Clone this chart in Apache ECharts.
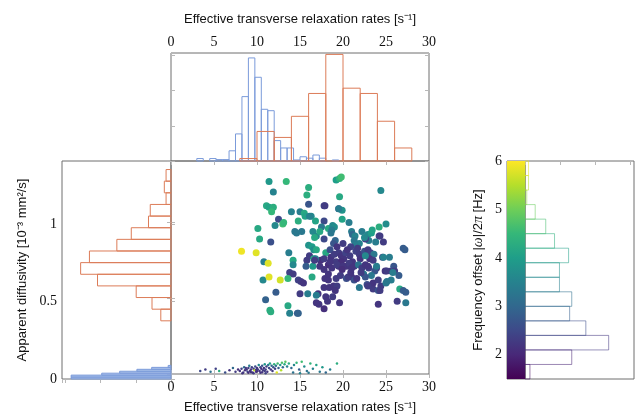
<!DOCTYPE html>
<html><head><meta charset="utf-8">
<script src="https://cdn.jsdelivr.net/npm/echarts/dist/echarts.min.js"></script>
<style>html,body{margin:0;padding:0;background:#fff}#c{width:638px;height:419px}</style>
</head><body><div id="c"></div>
<script>
// ---------- data ----------
var rateTicks = [0, 5, 10, 15, 20, 25, 30];
var diffTicks = [0, 0.5, 1];
var freqTicks = [2, 3, 4, 5, 6];
var freqRange = [1.5, 6];

var blueRateLo = [3.0,3.75,4.5,5.25,6.0,6.75,7.5,8.25,9.0,9.75,10.5,11.25,12.0,12.75,13.5,14.25,15.0,15.75,16.5,17.25,18.0,18.75];
var blueRateCount = [0.7,0,0.7,0.4,0.4,2.9,7.7,18.3,29.3,23.8,14.7,14.3,5.8,3.7,3.7,0.3,1.2,0.8,1.7,0.8,0,0.3];
var blueRateWidth = 0.75;

var orangeRateLo = [8,10,12,14,16,18,20,22,24,26];
var orangeRateCount = [0.7,8.4,6.7,12.7,19.2,30.3,20.7,19.2,11.3,3.7];
var orangeRateWidth = 2;

var orangeDiffLo = [0.375,0.45,0.525,0.6,0.675,0.75,0.825,0.9,0.975,1.05,1.125,1.2,1.275];
var orangeDiffCount = [2.9,5.4,9.9,20.9,25.7,23.2,15.4,11.3,6.4,5.9,1.4,1.9,1.4];
var orangeDiffWidth = 0.075;

var blueDiffLo = [0,0.0125,0.025,0.0375,0.05,0.0625,0.075];
var blueDiffCount = [28.4,28.4,19.7,14.6,9.7,5.5,0.8];
var blueDiffWidth = 0.0125;

var freqLo = [1.5,1.8,2.1,2.4,2.7,3.0,3.3,3.6,3.9,4.2,4.5,4.8,5.1,5.4,5.7];
var freqCount = [1.4,13.3,23.8,17.3,12.7,13.3,9.8,9.8,12.4,8.4,5.9,2.9,0.5,1.0,1.0];
var freqWidth = 0.3;

// [rate, diffusivity, frequency offset]
var tissuePoints = [
[11.4,1.27,3.9],[13.4,1.27,4.5],[11.9,1.20,3.5],[19.2,1.28,4.0],[19.6,1.29,4.4],[19.8,1.30,4.6],[16.0,1.23,4.3],[15.8,1.18,4.3],[24.4,1.21,3.6],[19.6,1.17,4.2],
[11.1,1.11,4.2],[11.4,1.10,4.1],[11.9,1.10,4.3],[11.7,1.07,4.5],[16.0,1.12,2.7],[17.8,1.11,2.4],[19.5,1.09,2.6],[19.9,1.08,3.8],[14.0,1.07,3.5],[15.0,1.07,3.4],
[15.5,1.06,4.2],[15.6,1.04,4.1],[12.5,1.02,2.5],[13.0,0.99,4.6],[13.1,1.00,4.5],[12.1,0.98,3.6],[14.8,1.01,4.3],[16.3,1.04,3.6],[16.8,1.01,4.1],[17.8,1.01,2.5],
[17.5,0.97,3.3],[18.3,0.96,4.2],[18.8,0.98,3.6],[19.0,0.97,3.7],[19.9,1.02,4.1],[20.7,1.00,3.4],[10.1,0.96,4.2],[14.4,0.94,3.3],[14.6,0.93,3.3],[15.2,0.94,3.3],
[16.5,0.94,3.6],[16.9,0.91,3.6],[17.3,0.94,4.2],[16.7,0.90,4.2],[18.7,0.95,3.4],[18.6,0.93,3.3],[17.8,0.89,2.5],[10.3,0.89,4.2],[11.6,0.87,2.6],[21.0,0.94,3.4],
[21.1,0.92,3.0],[21.4,0.91,3.5],[22.2,0.94,3.4],[22.9,0.92,3.6],[23.3,0.93,4.0],[23.4,0.95,4.1],[24.2,0.97,4.3],[25.0,0.99,3.7],[24.2,0.91,2.4],[24.7,0.87,2.3],
[23.8,0.87,3.4],[23.0,0.88,3.4],[22.6,0.89,2.4],[21.9,0.86,3.5],[21.3,0.88,3.3],[21.4,0.85,3.4],[20.9,0.84,2.4],[20.0,0.86,2.3],[19.1,0.88,3.0],[18.9,0.86,2.7],
[16.0,0.85,3.8],[16.4,0.84,4.0],[16.6,0.82,3.7],[16.9,0.82,4.2],[18.0,0.80,4.2],[18.5,0.82,2.6],[19.3,0.84,2.2],[19.5,0.80,2.3],[8.2,0.81,5.9],[9.9,0.80,5.8],
[13.7,0.80,3.4],[10.8,0.74,3.4],[11.3,0.73,5.8],[14.2,0.75,4.2],[15.8,0.75,2.3],[16.1,0.78,2.3],[16.6,0.76,4.2],[17.4,0.75,2.1],[17.8,0.76,2.3],[18.6,0.77,2.2],
[19.0,0.79,2.3],[19.8,0.78,2.2],[20.1,0.76,2.2],[20.3,0.80,2.4],[20.8,0.78,2.3],[21.1,0.74,2.2],[21.5,0.81,2.4],[21.9,0.79,2.3],[22.0,0.76,2.2],[22.5,0.81,2.6],
[22.9,0.82,2.3],[23.2,0.80,2.4],[23.6,0.79,3.3],[23.1,0.76,2.2],[23.5,0.75,2.3],[24.6,0.77,2.4],[25.4,0.77,3.4],[27.0,0.83,2.8],[27.2,0.82,2.8],[14.2,0.72,3.6],
[15.7,0.71,2.8],[16.5,0.71,3.9],[16.8,0.76,3.4],[17.3,0.71,2.2],[17.8,0.69,2.2],[18.3,0.72,2.1],[18.7,0.70,2.2],[19.2,0.74,2.3],[19.5,0.71,2.2],[19.8,0.74,2.1],
[20.4,0.71,2.2],[20.7,0.73,2.3],[21.0,0.70,2.2],[21.3,0.71,2.2],[21.8,0.72,3.2],[22.2,0.70,2.3],[22.6,0.72,2.2],[23.0,0.70,2.4],[23.9,0.70,2.2],[23.7,0.68,2.7],
[24.9,0.68,2.2],[25.6,0.68,2.3],[25.9,0.71,2.7],[26.0,0.68,2.3],[26.5,0.65,2.8],[22.4,0.66,3.4],[23.3,0.65,3.3],[13.8,0.67,2.4],[14.2,0.66,2.3],[14.8,0.62,2.4],
[15.1,0.61,2.3],[15.4,0.60,2.2],[10.7,0.62,3.6],[11.4,0.64,5.8],[12.7,0.62,5.7],[13.6,0.63,4.5],[16.4,0.64,4.2],[17.9,0.63,2.2],[18.3,0.62,2.2],[19.2,0.63,2.3],
[19.7,0.65,2.3],[20.4,0.63,2.6],[21.0,0.64,2.2],[21.3,0.62,2.6],[17.8,0.57,2.2],[18.4,0.57,2.2],[18.9,0.58,2.2],[19.3,0.58,2.3],[21.9,0.57,3.3],[22.8,0.59,2.6],
[23.5,0.56,2.3],[24.1,0.55,2.7],[24.4,0.58,2.3],[25.0,0.60,3.3],[25.6,0.62,3.4],[26.6,0.56,4.2],[27.0,0.55,2.8],[27.3,0.54,2.8],[11.0,0.49,2.9],[12.2,0.54,2.8],
[15.0,0.53,2.3],[15.9,0.53,3.4],[17.1,0.53,2.2],[18.0,0.51,2.2],[18.8,0.51,2.3],[18.2,0.48,2.2],[19.6,0.47,2.2],[17.2,0.46,2.2],[17.8,0.43,2.1],[24.1,0.46,2.2],
[26.3,0.48,2.3],[27.3,0.47,3.3],[13.6,0.45,4.2],[11.5,0.42,4.3],[11.6,0.41,4.3],[13.8,0.40,3.5],[14.7,0.40,2.8],[14.8,0.40,2.9],[22.6,0.78,3.6],[24.7,0.77,3.5],
[18.5,0.74,2.2],[19.3,0.72,2.3],[20.0,0.71,2.2],[22.9,0.71,2.2],[23.9,0.71,3.4],[25.1,0.68,2.3],[25.8,0.67,3.4],[18.3,0.66,2.2],[20.6,0.64,2.3],[21.6,0.63,2.2],
[22.6,0.64,2.7],[23.5,0.60,2.2],[24.1,0.62,2.3],[25.1,0.61,3.3],[22.9,0.58,2.3],[24.3,0.55,2.3],[19.1,0.55,2.2],[16.7,0.75,2.3],[16.9,0.47,2.2],[16.9,0.52,3.4],
[17.9,1.11,2.3],[19.5,1.09,3.4],[16.1,1.04,3.5],[24.3,0.91,2.3],[22.5,0.90,3.6],[21.7,0.83,2.3],[20.5,0.82,2.2],[19.9,0.69,2.1],[20.9,0.67,2.2],[22.1,0.67,2.3]
];
var fluidPoints = [
[3.4,0.020,2.5],[4.0,0.030,2.3],[4.6,0.015,3.2],[5.2,0.035,2.4],[5.6,0.020,4.3],[6.3,0.010,2.6],[6.8,0.025,2.2],[7.2,0.040,3.0],[7.5,0.015,2.3],[7.8,0.030,2.1],
[8.0,0.020,2.2],[8.2,0.035,2.4],[8.4,0.010,2.3],[8.5,0.045,3.1],[8.6,0.025,2.1],[8.8,0.030,2.2],[8.9,0.015,2.5],[9.0,0.040,2.3],[9.1,0.055,3.4],[9.2,0.020,2.1],
[9.3,0.030,2.2],[9.4,0.045,2.4],[9.5,0.010,2.2],[9.6,0.035,2.3],[9.7,0.025,5.6],[9.8,0.050,2.6],[9.9,0.015,2.1],[10.0,0.040,2.2],[10.1,0.030,2.3],[10.2,0.060,3.6],
[10.3,0.020,2.2],[10.4,0.045,2.4],[10.5,0.035,2.1],[10.6,0.055,2.7],[10.7,0.025,2.3],[10.8,0.040,2.2],[10.9,0.065,3.9],[11.0,0.030,2.4],[11.1,0.050,2.3],[11.2,0.015,2.2],
[11.3,0.060,3.3],[11.4,0.040,2.5],[11.5,0.070,4.1],[11.6,0.030,2.2],[11.7,0.055,3.0],[11.8,0.020,2.3],[11.9,0.045,2.6],[12.0,0.065,4.4],[12.1,0.035,2.4],[12.2,0.055,3.2],
[12.4,0.070,4.6],[12.5,0.040,2.8],[12.7,0.060,3.8],[12.8,0.025,5.5],[12.9,0.075,4.7],[13.0,0.045,3.1],[13.2,0.065,4.2],[13.3,0.080,4.8],[13.5,0.050,3.5],[13.7,0.070,4.3],
[14.0,0.040,3.0],[14.3,0.060,3.6],[14.6,0.075,4.5],[14.9,0.030,2.8],[15.2,0.080,4.6],[15.5,0.050,3.7],[15.8,0.020,3.2],[16.2,0.070,4.4],[16.5,0.035,3.5],[16.9,0.060,4.1],
[17.3,0.015,3.3],[17.6,0.045,3.9],[18.0,0.010,3.0],[18.5,0.030,3.4],[19.3,0.070,4.3],[8.3,0.005,2.2],[9.0,0.008,2.1],[9.6,0.005,2.3],[10.4,0.008,2.2],[11.0,0.005,2.4],
[12.3,0.010,5.8],[14.2,0.010,3.2],[15.0,0.005,3.5],[16.0,0.008,3.3],[9.3,0.012,2.2],[10.0,0.018,2.1],[10.6,0.012,2.2],[8.7,0.040,2.3],[9.9,0.028,2.2],[10.9,0.020,2.3]
];

// ---------- helpers ----------
var VIR = ['#440154','#482878','#3e4989','#31688e','#26828e','#1f9e89','#35b779','#6ece58','#b5de2b','#fde725'];
function hex(c){return [parseInt(c.substr(1,2),16),parseInt(c.substr(3,2),16),parseInt(c.substr(5,2),16)];}
function viridis(t, a){
  t = Math.max(0, Math.min(1, t)) * (VIR.length - 1);
  var i = Math.min(Math.floor(t), VIR.length - 2), f = t - i;
  var c0 = hex(VIR[i]), c1 = hex(VIR[i+1]);
  var c = c0.map(function(v,k){return Math.round(v + (c1[k]-v)*f);});
  return 'rgba(' + c.join(',') + ',' + (a == null ? 1 : a) + ')';
}
function pairs(lo, cnt){ return lo.map(function(v,i){return [v, cnt[i]];}); }
function vHist(stroke, fill, w){
  return function(p, api){
    var lo = api.value(0), c = api.value(1);
    if (!c) return;
    var a = api.coord([lo, 0]), b = api.coord([lo + w, c]);
    return {type:'rect', shape:{x:Math.min(a[0],b[0]), y:Math.min(a[1],b[1]), width:Math.abs(b[0]-a[0]), height:Math.abs(b[1]-a[1])},
      style:{fill:fill, stroke:stroke, lineWidth:1}};
  };
}
function hHist(strokeFn, fill, w){
  return function(p, api){
    var lo = api.value(0), c = api.value(1);
    if (!c) return;
    var a = api.coord([0, lo]), b = api.coord([c, lo + w]);
    return {type:'rect', shape:{x:Math.min(a[0],b[0]), y:Math.min(a[1],b[1]), width:Math.abs(b[0]-a[0]), height:Math.abs(b[1]-a[1])},
      style:{fill:fill, stroke:strokeFn(lo + w/2), lineWidth:1}};
  };
}

var BLUE = '#7b9bda', ORANGE = '#dc7c58', FRAME = '#6f6f6f', TICK = '#b8b8b8';
var numFont = {fontFamily:'Liberation Serif', fontSize:14, color:'#111'};
var titleFont = {fontFamily:'Liberation Sans', fontSize:13, color:'#111'};
var tickIn = {show:true, inside:true, length:4, lineStyle:{color:TICK}};
function plainAxis(extra){
  var o = {type:'value', axisLine:{show:false}, splitLine:{show:false}, axisTick:tickIn, axisLabel:{show:false}};
  for (var k in extra) o[k] = extra[k];
  return o;
}
var rStep = rateTicks[1] - rateTicks[0];
var dStep = diffTicks[1] - diffTicks[0];

var chart = echarts.init(document.getElementById('c'), null, {renderer:'canvas'});
chart.setOption({
  animation:false,
  backgroundColor:'#fff',
  grid:[
    {left:171, top:161, width:258, height:218, show:true, borderColor:FRAME, borderWidth:1},
    {left:171, top:53, width:258, height:108, show:true, borderColor:FRAME, borderWidth:1},
    {left:62, top:161, width:109, height:218, show:true, borderColor:FRAME, borderWidth:1},
    {left:525, top:161, width:109, height:218, show:true, borderColor:FRAME, borderWidth:1},
    {left:507, top:161, width:18, height:218, show:true, borderColor:FRAME, borderWidth:1}
  ],
  visualMap:{show:false, type:'continuous', min:freqRange[0], max:freqRange[1], dimension:2, seriesIndex:[0,1],
    inRange:{color:VIR}},
  xAxis:[
    plainAxis({gridIndex:0, min:rateTicks[0], max:rateTicks[rateTicks.length-1], interval:rStep, position:'bottom',
      axisLabel:Object.assign({show:true, margin:6}, numFont),
      name:'Effective transverse relaxation rates [s⁻¹]', nameLocation:'middle', nameGap:27, nameTextStyle:titleFont}),
    plainAxis({gridIndex:0, min:rateTicks[0], max:rateTicks[rateTicks.length-1], interval:rStep, position:'top'}),
    plainAxis({gridIndex:1, min:rateTicks[0], max:rateTicks[rateTicks.length-1], interval:rStep, position:'top',
      axisLabel:Object.assign({show:true, margin:4}, numFont),
      name:'Effective transverse relaxation rates [s⁻¹]', nameLocation:'middle', nameGap:27, nameTextStyle:titleFont}),
    plainAxis({gridIndex:2, min:0, max:31, interval:10, inverse:true, position:'top'}),
    plainAxis({gridIndex:3, min:0, max:31, interval:10, position:'top'}),
    plainAxis({gridIndex:4, min:0, max:1, axisTick:{show:false}})
  ],
  yAxis:[
    plainAxis({gridIndex:0, min:0, max:1.405, interval:dStep, position:'left'}),
    plainAxis({gridIndex:0, min:0, max:1.405, interval:dStep, position:'right'}),
    plainAxis({gridIndex:1, min:0, max:30.7, interval:10, position:'left'}),
    plainAxis({gridIndex:1, min:0, max:30.7, interval:10, position:'right'}),
    plainAxis({gridIndex:2, min:0, max:1.405, interval:dStep, position:'left',
      axisLabel:Object.assign({show:true, margin:5, showMaxLabel:false}, numFont),
      name:'Apparent diffusivity [10⁻³ mm²/s]', nameLocation:'middle', nameGap:33, nameTextStyle:titleFont}),
    plainAxis({gridIndex:3, min:freqRange[0], max:freqRange[1], position:'right',
      axisTick:{show:true, inside:true, length:4, lineStyle:{color:TICK}, customValues:freqTicks}}),
    plainAxis({gridIndex:4, min:freqRange[0], max:freqRange[1], position:'left', axisTick:{show:false},
      axisLabel:Object.assign({show:true, margin:5, customValues:freqTicks}, numFont),
      name:'Frequency offset |{i|ω}|/2{i|π} [Hz]', nameLocation:'middle', nameGap:22,
      nameTextStyle:Object.assign({rich:{i:{fontFamily:'Liberation Serif', fontStyle:'italic', fontSize:14, color:'#111'}}}, titleFont)})
  ],
  series:[
    {type:'scatter', xAxisIndex:0, yAxisIndex:0, symbolSize:7, data:tissuePoints, itemStyle:{opacity:1}},
    {type:'scatter', xAxisIndex:0, yAxisIndex:0, symbolSize:2.5, data:fluidPoints, itemStyle:{opacity:1}},
    {type:'custom', xAxisIndex:2, yAxisIndex:2, data:pairs(blueRateLo, blueRateCount), renderItem:vHist(BLUE, 'none', blueRateWidth)},
    {type:'custom', xAxisIndex:2, yAxisIndex:2, data:pairs(orangeRateLo, orangeRateCount), renderItem:vHist(ORANGE, 'none', orangeRateWidth)},
    {type:'custom', xAxisIndex:3, yAxisIndex:4, data:pairs(orangeDiffLo, orangeDiffCount), renderItem:hHist(function(){return ORANGE;}, 'none', orangeDiffWidth)},
    {type:'custom', xAxisIndex:3, yAxisIndex:4, data:pairs(blueDiffLo, blueDiffCount), renderItem:hHist(function(){return BLUE;}, 'rgba(150,178,228,0.75)', blueDiffWidth)},
    {type:'custom', xAxisIndex:4, yAxisIndex:5, data:pairs(freqLo, freqCount),
      renderItem:hHist(function(v){return viridis((v - freqRange[0])/(freqRange[1]-freqRange[0]), 0.55);}, 'none', freqWidth)},
    {type:'custom', xAxisIndex:5, yAxisIndex:6, data:[[freqRange[0], freqRange[1]]],
      renderItem:function(p, api){
        var a = api.coord([0, api.value(0)]), b = api.coord([1, api.value(1)]);
        var stops = VIR.map(function(c,i){return {offset:i/(VIR.length-1), color:c};});
        return {type:'rect', shape:{x:a[0], y:b[1], width:b[0]-a[0], height:a[1]-b[1]},
          style:{fill:new echarts.graphic.LinearGradient(0,1,0,0,stops)}};
      }}
  ]
});
</script>
</body></html>
